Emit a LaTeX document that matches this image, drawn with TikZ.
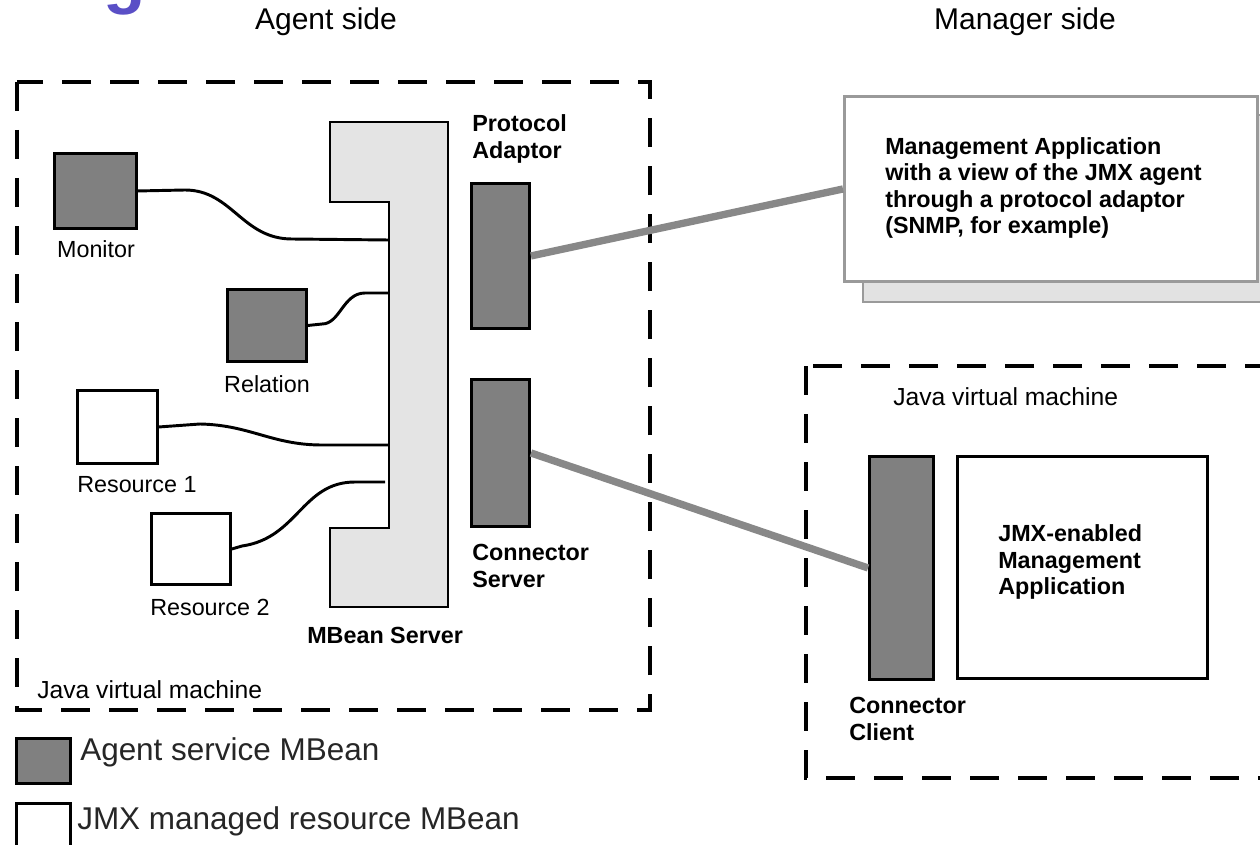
\documentclass[tikz,border=0pt]{standalone}
\usepackage{fontspec}
\setmainfont{Liberation Sans}
\definecolor{svcgray}{HTML}{808080}
\definecolor{srvgray}{HTML}{E4E4E4}
\definecolor{wiregray}{HTML}{888888}
\definecolor{framegray}{HTML}{9A9A9A}
\definecolor{shadowgray}{HTML}{E2E2E2}
\definecolor{titlepurple}{HTML}{5A4FC6}
\tikzset{
  svcbox/.style={draw=black, fill=svcgray, line width=2.2pt, inner sep=0pt, anchor=north west},
  resbox/.style={draw=black, fill=white, line width=2.2pt, inner sep=0pt, anchor=north west},
  jvmframe/.style={draw=black, line width=3pt, dash pattern=on 21.5pt off 14.5pt},
  wire/.style={draw=black, line width=2.2pt},
  link/.style={draw=wiregray, line width=5.5pt},
  lbl/.style={font=\fontsize{17.5}{19.9}\selectfont, inner sep=0pt, align=left},
  blbl/.style={font=\bfseries\fontsize{17.5}{19.9}\selectfont, inner sep=0pt, align=left},
  biglbl/.style={font=\fontsize{22.5}{26}\selectfont, inner sep=0pt},
  legendlbl/.style={font=\fontsize{23.6}{26}\selectfont, inner sep=0pt, anchor=west, text=black!85},
  jvmlbl/.style={font=\fontsize{18.5}{20}\selectfont, inner sep=0pt, anchor=west}
}
\begin{document}
\begin{tikzpicture}[x=0.75pt, y=-0.75pt]
\useasboundingbox (0,0) rectangle (1260,845);
\clip (0,0) rectangle (1260,845);
\fill[white] (0,0) rectangle (1260,845);

% cropped title fragment
\node[anchor=base, text=titlepurple, font=\bfseries\fontsize{52}{52}\selectfont, inner sep=0pt] (gfrag) at (125,1) {g};

% side headings
\node[biglbl] (agentside) at (326,22) {Agent side};
\node[biglbl] (managerside) at (1025,22) {Manager side};

% JVM frames
\draw[jvmframe] (17,82) rectangle (650,710);
\draw[jvmframe] (806,366) rectangle (1300,778);
\node[jvmlbl] (jvmleft) at (37,690) {Java virtual machine};
\node[jvmlbl] (jvmright) at (893,397) {Java virtual machine};

% MBean server
\draw[fill=srvgray, line width=2.2pt] (330,122) -- (448,122) -- (448,607) -- (330,607) -- (330,528) -- (389,528) -- (389,202) -- (330,202) -- cycle;
\coordinate (ms1) at (389,240);
\coordinate (ms2) at (389,293);
\coordinate (ms3) at (389,445);
\coordinate (ms4) at (385,482);
\node[blbl, anchor=west] (mbslbl) at (307,635) {MBean Server};

% MBeans
\node[svcbox, minimum width=61.5pt, minimum height=56.25pt] (mon) at (53,152) {};
\node[lbl] (monlbl) at (96,249) {Monitor};
\node[svcbox, minimum width=59.25pt, minimum height=54pt] (rel) at (226,288) {};
\node[lbl] (rellbl) at (267,384) {Relation};
\node[resbox, minimum width=60pt, minimum height=54.75pt] (r1) at (76,389) {};
\node[lbl, anchor=west] (r1lbl) at (77,485) {Resource 1};
\node[resbox, minimum width=59.25pt, minimum height=53.25pt] (r2) at (150,512) {};
\node[lbl, anchor=west] (r2lbl) at (150,607) {Resource 2};

% wires
\draw[wire] (mon.east) -- (185,190) .. controls (232,190) and (242,239) .. (292,239) -- (ms1);
\draw[wire] (rel.east) -- (322,324) .. controls (340,324) and (343,293) .. (365,293) -- (ms2);
\draw[wire] (r1.east) -- (200,424) .. controls (250,425) and (272,445) .. (322,445) -- (ms3);
\draw[wire] (r2.east) -- (242,546) .. controls (298,538) and (302,482) .. (355,482) -- (ms4);

% protocol adaptor and connector server
\node[svcbox, minimum width=43.5pt, minimum height=108.75pt] (pa) at (470,182) {};
\node[blbl, anchor=west] (palbl) at (472,139) {Protocol\\Adaptor};
\node[svcbox, minimum width=43.5pt, minimum height=110.25pt] (cs) at (470,378) {};
\node[blbl, anchor=west] (cslbl) at (472,566) {Connector\\Server};

% management application (protocol view)
\draw[draw=framegray, fill=shadowgray, line width=2pt] (863,115) rectangle (1290,302);
\node[draw=framegray, fill=white, line width=2.2pt, inner sep=0pt, anchor=north west, minimum width=309.75pt, minimum height=138.75pt] (mgmt) at (843,95) {};
\node[blbl, anchor=west] (mgmtlbl) at (885,188) {Management Application\\with a view of the JMX agent\\through a protocol adaptor\\(SNMP, for example)};

% manager JVM contents
\node[svcbox, minimum width=48pt, minimum height=167.25pt] (cc) at (868,455) {};
\node[blbl, anchor=west] (cclbl) at (849,719) {Connector\\Client};
\node[resbox, minimum width=187.5pt, minimum height=166.5pt] (jmxapp) at (956,455) {};
\node[blbl, anchor=west] (jmxlbl) at (998,562) {JMX-enabled\\Management\\Application};

% links
\draw[link] (pa.east) -- (mgmt.west);
\draw[link] (cs.east) -- (cc.west);

% legend
\node[svcbox, minimum width=40.5pt, minimum height=33.75pt] (lg1) at (15,737) {};
\node[legendlbl] (lg1lbl) at (80,752) {Agent service MBean};
\node[resbox, minimum width=40.5pt, minimum height=39.75pt] (lg2) at (15,802) {};
\node[legendlbl] (lg2lbl) at (77,821) {JMX managed resource MBean};
\end{tikzpicture}
\end{document}
